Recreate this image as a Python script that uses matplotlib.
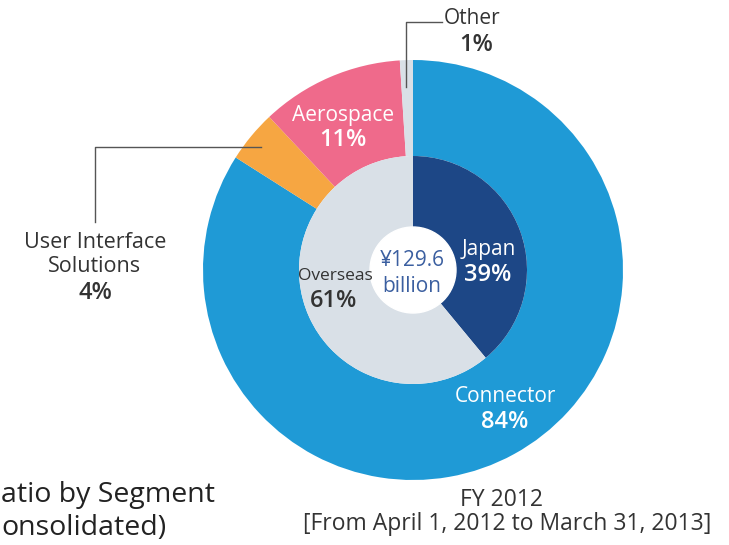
import matplotlib.pyplot as plt

# outer ring: share of sales by segment (%)
segments = ['Connector', 'User Interface\nSolutions', 'Aerospace', 'Other']
segment_pct = [84, 4, 11, 1]
segment_colors = ['#1f9ad6', '#f6a642', '#ef6a8b', '#d9e0e7']

# inner pie: domestic vs overseas (%)
regions = ['Japan', 'Overseas']
region_pct = [39, 61]
region_colors = ['#1d4786', '#d9e0e7']

total_label = '¥129.6\nbillion'

plt.rcParams['font.family'] = ['Open Sans', 'DejaVu Sans']

fig = plt.figure(figsize=(7.29, 5.45), dpi=100)
ax = fig.add_axes([0, 0, 1, 1])

H = 545
cx, cy = 413, H - 270   # centre of the chart in pixel coords
R = 210                 # outer radius
r = 114                 # inner pie radius

ax.pie(segment_pct, colors=segment_colors, startangle=90, counterclock=False,
       radius=R, center=(cx, cy), wedgeprops=dict(width=R - r, linewidth=0),
       frame=True)
ax.pie(region_pct, colors=region_colors, startangle=90, counterclock=False,
       radius=r, center=(cx, cy), wedgeprops=dict(linewidth=0), frame=True)
ax.add_patch(plt.Circle((cx, cy), 43, color='white', zorder=5))
ax.set_xlim(0, 729)
ax.set_ylim(0, 545)
ax.axis('off')
ax.set_aspect('auto')

dark = '#333333'
NS = 15     # name size
PS = 17     # percent size

def lbl(x, y, text, color, size=NS, **kw):
    ax.text(x, H - y, text, ha='center', va='center', color=color,
            fontsize=size, zorder=6, **kw)

# labels inside the ring
lbl(343, 115, 'Aerospace', 'white')
lbl(343, 140, '%d%%' % segment_pct[2], 'white', size=PS, fontweight=600)
lbl(505, 397, 'Connector', 'white')
lbl(505, 422, '%d%%' % segment_pct[0], 'white', size=PS, fontweight=600)
lbl(489, 249, regions[0], 'white')
lbl(488, 275, '%d%%' % region_pct[0], 'white', size=PS, fontweight=600)
lbl(335, 276, regions[1], dark, size=12.5)
lbl(334, 301, '%d%%' % region_pct[1], dark, size=PS, fontweight=600)
lbl(412, 261, total_label.split('\n')[0], '#3b5fa0')
lbl(412, 287, total_label.split('\n')[1], '#3b5fa0')

# leader for Other
ax.plot([406, 406, 442], [H - 87, H - 22, H - 22], color='#555555', lw=1, zorder=6)
ax.text(444, H - 19, segments[3], ha='left', va='center', color=dark, fontsize=NS)
lbl(476, 45, '%d%%' % segment_pct[3], dark, size=PS, fontweight=600)

# leader for User Interface Solutions
ax.plot([261, 95, 95], [H - 147, H - 147, H - 222], color='#555555', lw=1, zorder=6)
lbl(95, 242, 'User Interface', dark, size=15.5)
lbl(95, 266, 'Solutions', dark, size=15.5)
lbl(95, 293, '%d%%' % segment_pct[1], dark, size=PS, fontweight=600)

# bottom captions
ax.text(502, H - 500, 'FY 2012', ha='center', va='center', color=dark, fontsize=16.5)
ax.text(507, H - 524, '[From April 1, 2012 to March 31, 2013]', ha='center',
        va='center', color=dark, fontsize=16.5)
ax.text(1, H - 495, 'atio by Segment', ha='left', va='center', color='#222222',
        fontsize=20.5)
ax.text(1, H - 528, 'onsolidated)', ha='left', va='center', color='#222222',
        fontsize=20.5)

fig.savefig('out.png', dpi=100)
